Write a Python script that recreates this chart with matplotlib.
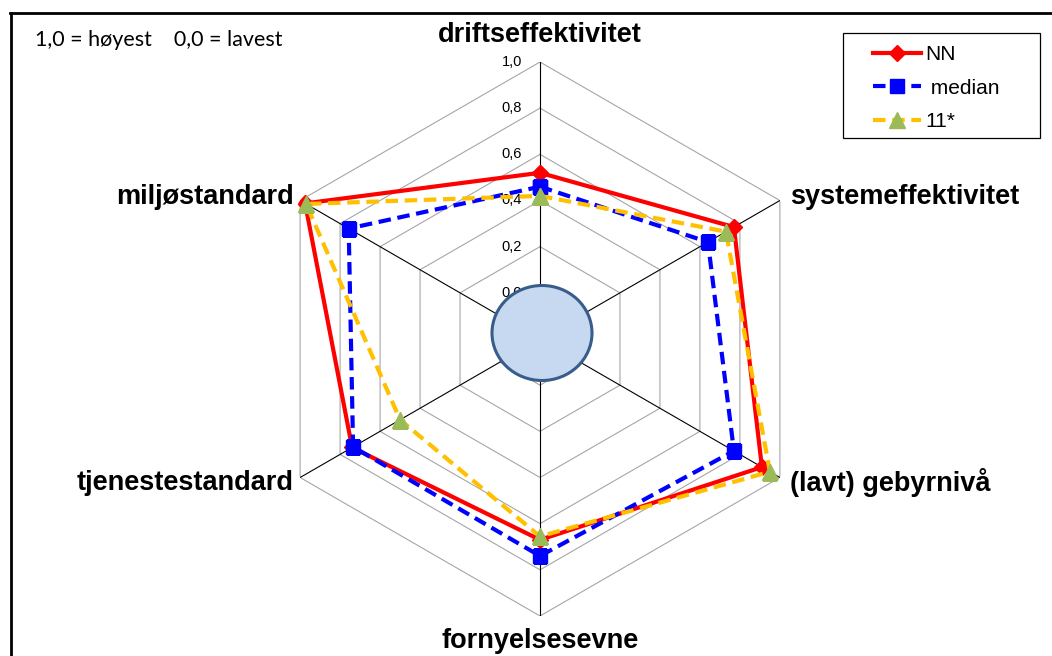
import numpy as np
import matplotlib
matplotlib.use("Agg")
import matplotlib.pyplot as plt
from matplotlib.patches import Ellipse, Rectangle
from matplotlib.lines import Line2D
import matplotlib.transforms as mtransforms

categories = ["driftseffektivitet", "systemeffektivitet", "(lavt) gebyrnivå",
              "fornyelsesevne", "tjenestestandard", "miljøstandard"]
nn_values = [0.52, 0.77, 0.91, 0.67, 0.74, 0.975]
median_values = [0.46, 0.64, 0.77, 0.74, 0.735, 0.757]
s11_values = [0.42, 0.73, 0.95, 0.655, 0.50, 0.97]
series_names = ["NN", "median", "11*"]
tick_values = [0.0, 0.2, 0.4, 0.6, 0.8, 1.0]
tick_labels = ["0,0", "0,2", "0,4", "0,6", "0,8", "1,0"]
r_min, r_max = -0.2, 1.0

W, H = 1052, 656
fig = plt.figure(figsize=(W / 100, H / 100), dpi=100)
fig.patch.set_facecolor("white")

cx, cy, R = 540, 339, 277
ax = fig.add_axes([(cx - R) / W, (H - cy - R) / H, 2 * R / W, 2 * R / H], projection="polar")
ax.set_theta_offset(np.pi / 2)
ax.set_theta_direction(-1)
ax.set_ylim(r_min, r_max)
ax.grid(False)
ax.set_xticks([])
ax.set_yticks([])
ax.spines["polar"].set_visible(False)
ax.patch.set_visible(False)

n = len(categories)
angles = np.arange(n) * 2 * np.pi / n
closed = np.append(angles, angles[0])

# hexagonal rings
for lv in [r_min] + tick_values:
    ax.plot(closed, [lv] * (n + 1), color="#a6a6a6", lw=0.8, zorder=1)
# spokes
for a in angles:
    ax.plot([a, a], [r_min, r_max], color="black", lw=0.8, zorder=1)

# tick labels on top spoke
off = mtransforms.offset_copy(ax.transData, fig=fig, x=-18, y=0, units="dots")
for v, lab in zip(tick_values, tick_labels):
    ax.text(0, v, lab, transform=off, ha="right", va="center", fontsize=10.5,
            family="Liberation Sans", color="black", zorder=2)

def close(vals):
    return list(vals) + [vals[0]]

ax.plot(closed, close(nn_values), color="#ff0000", lw=3, marker="D", ms=8.5,
        mfc="#ff0000", mec="#ff0000", zorder=3, label=series_names[0])
ax.plot(closed, close(median_values), color="#0000ff", lw=3, dashes=(3, 1.6),
        marker="s", ms=10, mfc="#0000ff", mec="#0000ff", zorder=4, label=series_names[1])
ax.plot(closed, close(s11_values), color="#ffc000", lw=3, dashes=(3, 1.6),
        marker="^", ms=12, mfc="#9bbb59", mec="#9bbb59", zorder=5, label=series_names[2])

# category labels
offsets = [(0, 27, "center"), (10, 4, "left"), (10, -5, "left"),
           (0, -25, "center"), (-6, -5, "right"), (-6, 4, "right")]
for a, lab, (dx, dy, ha) in zip(angles, categories, offsets):
    ax.annotate(lab, xy=(a, r_max), xytext=(dx, dy), textcoords="offset pixels",
                ha=ha, va="center", fontsize=19.5, fontweight="bold",
                family="Liberation Sans", annotation_clip=False)

# centre ellipse overlay
fig.add_artist(Ellipse((542 / W, 1 - 333 / H), 100 / W, 95 / H, transform=fig.transFigure,
                       facecolor="#c6d9f1", edgecolor="#385d8a", lw=2.2, zorder=10))

# legend
handles = [
    Line2D([], [], color="#ff0000", lw=3, marker="D", ms=8.5, mfc="#ff0000", mec="#ff0000"),
    Line2D([], [], color="#0000ff", lw=3, dashes=(3, 1.6), marker="s", ms=10,
           mfc="#0000ff", mec="#0000ff"),
    Line2D([], [], color="#ffc000", lw=3, dashes=(3, 1.6), marker="^", ms=12,
           mfc="#9bbb59", mec="#9bbb59"),
]
labels = ["NN", " median", "11*"]
fig.legend(handles, labels, loc="upper left", bbox_to_anchor=(873 / W, 1 - 45 / H),
           frameon=False, borderpad=0, borderaxespad=0, handlelength=2.3,
           handletextpad=0.2, labelspacing=0.7,
           prop={"family": "Liberation Sans", "size": 15})
fig.add_artist(Rectangle((843 / W, 1 - 138 / H), (1040 - 843) / W, (138 - 33) / H,
                         transform=fig.transFigure, fill=False, edgecolor="black", lw=0.9))

# note text
fig.text(35 / W, 1 - 40 / H, "1,0 = høyest    0,0 = lavest", ha="left", va="center",
         fontsize=15.5, family="Lato")

# outer frame (top and left edges visible)
fig.add_artist(Line2D([10 / W, 1.0], [1 - 12.5 / H, 1 - 12.5 / H], transform=fig.transFigure,
                      color="black", lw=2))
fig.add_artist(Line2D([11 / W, 11 / W], [1 - 12.5 / H, 0], transform=fig.transFigure,
                      color="black", lw=2))

fig.savefig("out.png", dpi=100)
